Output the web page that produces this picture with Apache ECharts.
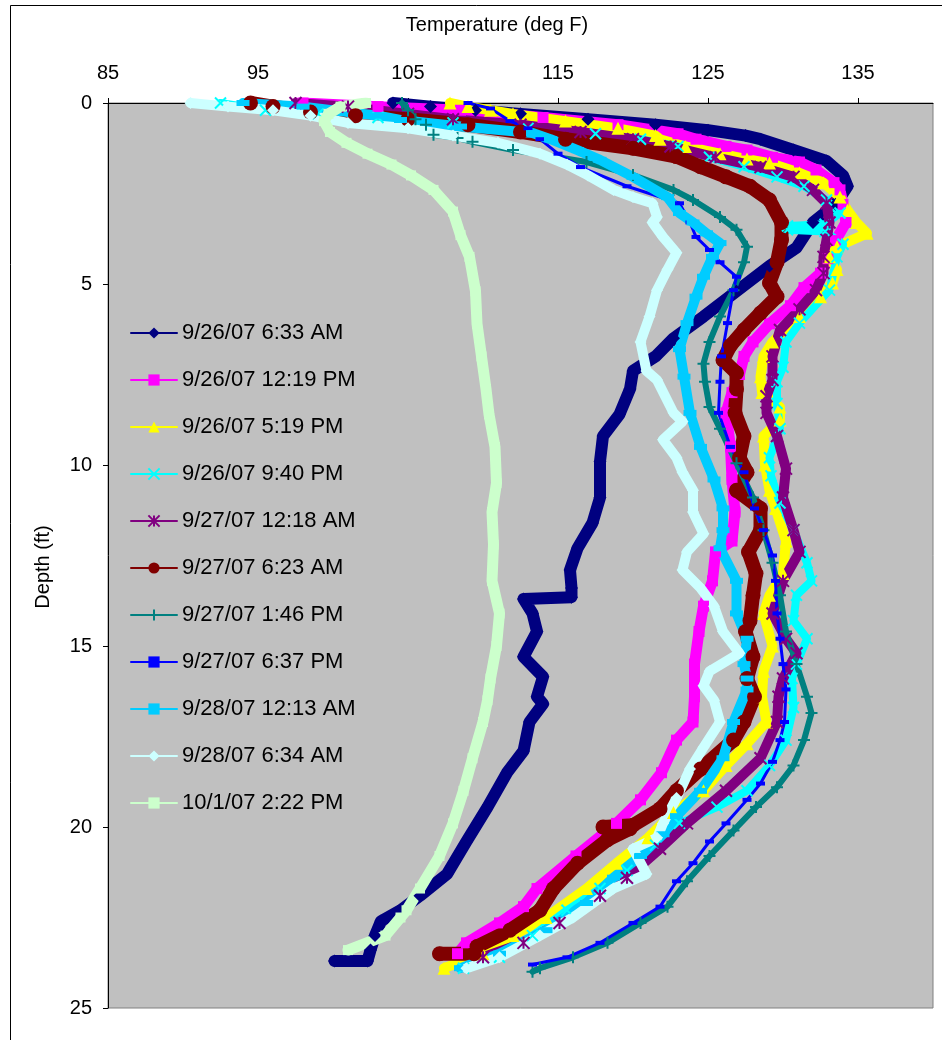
<!DOCTYPE html>
<html>
<head>
<meta charset="utf-8">
<script src="https://cdn.jsdelivr.net/npm/echarts@6/dist/echarts.min.js"></script>
<style>
  html, body { margin: 0; padding: 0; background: #fff; }
  #chart { width: 942px; height: 1040px; }
</style>
</head>
<body>
<div id="chart"></div>
<script>
// temperature profiles, depth (ft) vs temperature (deg F)
const xTicks = [85, 95, 105, 115, 125, 135];

const names = [
  '9/26/07 6:33 AM', '9/26/07 12:19 PM', '9/26/07 5:19 PM', '9/26/07 9:40 PM',
  '9/27/07 12:18 AM', '9/27/07 6:23 AM', '9/27/07 1:46 PM', '9/27/07 6:37 PM',
  '9/28/07 12:13 AM', '9/28/07 6:34 AM', '10/1/07 2:22 PM'
];

const depth0633 = [0, 0.1, 0.2, 0.3, 0.45, 0.6, 0.75, 0.9, 1.0, 1.3, 1.6, 2.0, 2.3, 2.8, 3.3, 4.0, 4.5, 5.2, 5.9, 6.5, 7.0, 7.4, 7.9, 8.6, 9.2, 9.9, 10.9, 11.6, 12.3, 12.9, 13.4, 13.65, 13.7, 14.1, 14.6, 15.3, 15.85, 16.4, 16.6, 17.1, 17.9, 18.5, 19.45, 20.4, 21.3, 21.9, 22.3, 22.6, 23.0, 23.4, 23.7, 23.7];
const temp0633 = [104, 106.5, 109.5, 112.5, 117, 121.5, 125, 127.5, 128.5, 130.7, 132.9, 134, 134.3, 133.5, 132, 130.9, 129.1, 126.9, 124.7, 122.7, 121.5, 120, 119.8, 119.1, 118, 117.8, 117.8, 117.3, 116.3, 115.8, 115.9, 115.9, 112.7, 113.3, 113.6, 112.7, 114, 113.6, 114, 113.1, 112.7, 111.6, 110.3, 108.9, 107.6, 105.8, 104.5, 103.2, 102.8, 102.5, 102.3, 100.1];

const depth1219 = [0, 0.1, 0.2, 0.4, 0.6, 0.85, 1.0, 1.2, 1.3, 1.5, 1.63, 1.85, 2.2, 2.4, 2.8, 3.3, 3.8, 4.3, 4.7, 5.1, 5.6, 6.1, 6.6, 7.0, 7.5, 8.0, 8.56, 9.5, 10.4, 11.3, 12.1, 12.4, 13.2, 13.9, 14.6, 15.5, 16.4, 17.1, 17.6, 18.5, 19.25, 19.9, 20.8, 21.7, 22.2, 22.65, 23.2, 23.5];
const temp1219 = [98, 103, 108.5, 114, 119, 123, 124.2, 126.2, 127.6, 129.3, 131.1, 132.2, 133.4, 133.8, 134, 134.2, 133.5, 133, 132.5, 131.4, 130.5, 129.1, 128, 127.4, 127.1, 126.6, 126.2, 126.5, 126.6, 126.8, 126.6, 125.5, 125.3, 124.7, 124.4, 124.1, 124.1, 124, 122.9, 121.9, 120.5, 118.9, 116.2, 113.6, 112.7, 111.1, 108.9, 108.3];

const depth0519 = [0, 0.1, 0.2, 0.3, 0.5, 0.7, 0.9, 1.0, 1.2, 1.4, 1.55, 1.66, 1.93, 2.2, 2.6, 2.96, 3.3, 3.6, 3.97, 4.25, 4.6, 4.97, 5.35, 5.9, 6.6, 7.0, 7.56, 8.0, 8.4, 8.76, 9.2, 10.0, 10.7, 11.2, 12.1, 13.0, 13.6, 14.1, 15.0, 15.7, 16.4, 17.1, 17.7, 18.3, 19.0, 19.6, 20.3, 21.0, 21.7, 22.5, 23.0, 23.5, 23.9];
const temp0519 = [107.8, 109, 110.5, 112, 115.5, 119, 121.5, 121.8, 123.5, 125.8, 127.6, 129.1, 131.1, 132.7, 133.8, 134.3, 134.9, 135.6, 133.6, 133.1, 133.6, 133.3, 132.5, 131.1, 129.3, 128.7, 128.5, 128.6, 129.8, 129.8, 128.7, 128.8, 129.1, 129.5, 130.2, 130, 129.1, 128.7, 129.3, 128.7, 128.6, 128.9, 127.6, 126.2, 124.7, 122.7, 121, 118.9, 116.9, 114.2, 112, 110, 107.4];

const depth0940 = [0, 0.2, 0.3, 0.4, 0.55, 0.7, 0.85, 1.0, 1.2, 1.5, 1.76, 2.04, 2.3, 2.68, 3.04, 3.35, 3.4, 3.5, 3.55, 3.9, 4.25, 5.17, 6.08, 6.6, 7.3, 7.7, 8.3, 9.0, 9.8, 10.3, 11.05, 11.8, 12.7, 13.2, 13.6, 14.3, 14.8, 15.5, 15.9, 16.7, 17.6, 18.3, 19.0, 19.45, 19.9, 20.5, 21.2, 21.7, 22.3, 23.0, 23.6, 23.9];
const temp0940 = [92.5, 95.5, 99, 103, 108, 113, 117.5, 120.5, 123, 125.1, 127.4, 129.6, 131.4, 132.9, 133.8, 132.8, 130.3, 130.3, 132.8, 134, 133.6, 133.1, 131.1, 130.2, 130, 129.6, 129.6, 129.8, 129.1, 129.2, 129.8, 130.7, 131.6, 131.9, 130.9, 130.7, 131.6, 130.9, 130.6, 130.7, 130.2, 129.1, 127.6, 125.6, 123.1, 121.5, 119.6, 117.8, 115.6, 113.3, 111.1, 108.7];

const depth1218 = [0, 0.1, 0.3, 0.45, 0.6, 0.8, 1.0, 1.2, 1.5, 1.77, 2.04, 2.4, 2.77, 3.3, 3.78, 4.25, 4.7, 5.17, 5.7, 6.27, 7.0, 7.65, 8.1, 8.56, 9.2, 10.1, 10.9, 11.8, 12.4, 13.2, 14.1, 14.8, 15.2, 15.9, 16.4, 17.1, 18.1, 19.0, 19.9, 20.6, 21.4, 21.9, 22.65, 23.2, 23.6];
const temp1218 = [97.5, 101, 105, 108, 112.5, 116.5, 120, 122.5, 125.5, 128.5, 130.7, 132, 132.9, 133.1, 132.9, 132.7, 132.7, 132.2, 131.1, 129.8, 129.3, 129.3, 128.9, 128.9, 129.6, 130.2, 130, 130.7, 131.1, 130, 129.3, 130.2, 130.9, 130, 129.7, 129.6, 128.5, 126.2, 123.6, 121.8, 119.6, 117.8, 115.1, 112.7, 110];

const depth0623 = [0, 0.1, 0.25, 0.35, 0.45, 0.6, 0.8, 1.0, 1.25, 1.48, 1.76, 2.04, 2.3, 2.68, 3.3, 3.78, 4.4, 4.97, 5.35, 5.8, 6.27, 6.7, 7.1, 7.46, 7.9, 8.56, 9.2, 9.8, 10.2, 10.7, 11.2, 11.8, 12.4, 13.0, 13.6, 14.3, 14.6, 15.3, 15.9, 16.4, 17.1, 17.6, 18.4, 19.0, 19.5, 19.95, 20.0, 20.05, 20.35, 21.0, 21.7, 22.3, 22.85, 23.3, 23.5, 23.5];
const temp0623 = [94.5, 96, 98.5, 101.5, 105, 109, 112.5, 115.5, 120, 122.9, 124.5, 126.2, 127.8, 129.1, 129.9, 129.9, 129.6, 129.1, 129.6, 128.5, 127.4, 126.5, 126, 126.9, 126.9, 126.8, 127.4, 127.1, 127.6, 126.9, 128.5, 128.5, 127.7, 128.2, 128, 127.8, 127.5, 128, 127.6, 128.1, 127.4, 126.7, 124.5, 122.9, 121.8, 120, 118, 119.8, 118.3, 116.3, 114.7, 113.8, 111.8, 109.6, 109.4, 107.1];

const depth0146 = [0, 0.2, 0.45, 0.6, 0.88, 0.97, 1.07, 1.3, 1.63, 1.99, 2.4, 2.68, 3.15, 3.5, 3.97, 4.4, 5.17, 5.9, 6.6, 7.2, 7.7, 8.4, 9.0, 9.95, 10.9, 11.8, 12.7, 13.6, 14.6, 15.5, 16.4, 16.85, 17.6, 18.3, 18.9, 19.45, 20.1, 20.8, 21.5, 22.2, 22.65, 23.2, 23.6, 23.9, 24.0];
const temp0146 = [104.6, 105, 105.5, 106.2, 106.7, 108.3, 109.3, 112, 116.9, 120, 122.7, 124, 125.8, 126.9, 127.6, 127.4, 126.7, 125.8, 125.1, 124.7, 124.8, 125.1, 125.8, 126.9, 128, 128.7, 129.3, 129.8, 130.2, 130.9, 131.6, 131.9, 131.4, 130.7, 129.6, 128.2, 126.7, 125.1, 123.6, 122.3, 120.5, 118.3, 116, 113.8, 113.3];

const depth0637 = [0, 0.15, 0.5, 0.7, 1.0, 1.4, 1.77, 2.3, 2.77, 3.3, 3.7, 4.06, 4.4, 4.8, 5.17, 6.08, 7.0, 7.7, 8.56, 9.5, 10.2, 11.2, 11.8, 12.5, 13.2, 14.1, 14.8, 15.5, 16.2, 17.1, 17.6, 18.2, 18.8, 19.25, 19.9, 20.4, 21.0, 21.5, 22.2, 22.65, 23.2, 23.6, 23.8];
const temp0637 = [109, 110.5, 111.8, 113, 113.8, 115, 116.5, 119.6, 123.1, 123.8, 124.2, 125.1, 125.8, 126.9, 126.7, 126.3, 125.9, 125.8, 125.7, 126.5, 127.4, 128.1, 128.7, 129.3, 129.5, 129.6, 129.8, 130, 130.2, 130.1, 129.8, 129.3, 128.5, 127.6, 126.2, 125.1, 124, 122.9, 121.8, 120, 117.8, 115.6, 113.3];

const depth1213 = [0, 0.1, 0.35, 0.47, 0.65, 0.83, 1.0, 1.3, 1.57, 2.04, 2.6, 3.04, 3.3, 3.6, 3.87, 4.25, 4.8, 5.35, 6.08, 6.8, 7.56, 8.56, 9.5, 10.4, 11.2, 11.8, 12.3, 13.2, 14.1, 14.8, 15.5, 15.9, 16.2, 17.1, 18.1, 19.0, 19.7, 20.2, 20.8, 21.4, 22.1, 22.85, 23.5, 23.9];
const temp1213 = [94, 98, 103, 104.5, 108.5, 113.3, 114.5, 116.3, 117.8, 120, 122.3, 123.1, 124, 124.9, 125.8, 125.3, 124.7, 124.2, 123.6, 123.1, 123.4, 123.8, 124.5, 125.4, 126, 126, 125.8, 126.9, 126.9, 127.6, 127.4, 127.6, 127.6, 126.7, 126, 124.5, 122.9, 122, 120.5, 118.7, 116.9, 114.2, 111.1, 108.5];

const depth0634 = [0, 0.1, 0.2, 0.35, 0.55, 0.7, 0.9, 1.1, 1.4, 1.7, 2.0, 2.4, 2.6, 2.77, 3.15, 3.3, 3.7, 4.14, 4.6, 5.17, 5.9, 6.6, 7.4, 7.65, 8.56, 8.8, 9.3, 9.8, 10.2, 10.7, 11.3, 11.9, 12.4, 12.9, 13.4, 13.9, 14.6, 15.2, 15.7, 16.1, 16.5, 17.1, 17.8, 18.4, 19.2, 19.9, 20.3, 20.6, 21.3, 21.7, 22.5, 23.0, 23.6, 23.9];
const temp0634 = [90.5, 93, 96, 98.5, 101, 105, 108, 111, 113.8, 115.6, 117, 118.7, 120, 121.3, 121.6, 121.3, 122, 122.9, 122.3, 121.6, 121.1, 120.5, 120.9, 121.6, 122.7, 123.3, 122, 122.9, 123.3, 124, 124, 124.7, 123.6, 123.3, 124.5, 125.4, 126, 127.1, 125.1, 124.7, 125.4, 125.8, 124.7, 123.8, 122.9, 122, 121.6, 120, 120.9, 118.7, 116, 113.8, 111.1, 108.9];

const depth1001 = [0, 0.1, 0.3, 0.5, 0.8, 1.1, 1.4, 1.7, 2.0, 2.4, 3.0, 3.65, 4.25, 5.2, 6.1, 7.0, 7.9, 8.6, 9.5, 10.5, 11.3, 12.2, 13.2, 14.1, 15.0, 15.9, 16.5, 17.1, 18.1, 19.0, 19.9, 20.8, 21.7, 22.3, 22.5, 23.0, 23.4];
const temp1001 = [102.2, 100.5, 99.7, 99.4, 99.8, 100.9, 102.3, 103.9, 105.2, 106.7, 108, 108.5, 109.1, 109.5, 109.6, 109.9, 110.2, 110.4, 110.8, 110.9, 110.6, 110.7, 110.6, 111.1, 110.9, 110.5, 110.3, 110, 109.3, 108.7, 108, 107.1, 105.8, 104.9, 104.5, 103.5, 101];

const depths = [depth0633, depth1219, depth0519, depth0940, depth1218, depth0623, depth0146, depth0637, depth1213, depth0634, depth1001];
const temps = [temp0633, temp1219, temp0519, temp0940, temp1218, temp0623, temp0146, temp0637, temp1213, temp0634, temp1001];

// excel 2003 palette, marker per series
const colors = ['#000080', '#FF00FF', '#FFFF00', '#00FFFF', '#800080', '#800000', '#008080', '#0000FF', '#00CCFF', '#CCFFFF', '#CCFFCC'];
const crossPath = 'path://M0,0L10,10M10,0L0,10';
const starPath = 'path://M0,0L10,10M10,0L0,10M5,0L5,10';
const plusPath = 'path://M5,0L5,10M0,5L10,5';
const looks = [
  { symbol: 'diamond', size: 13, width: 12 },
  { symbol: 'rect', size: 11, width: 11 },
  { symbol: 'triangle', size: 13, width: 10 },
  { symbol: crossPath, size: 11, width: 8, stroke: true },
  { symbol: starPath, size: 12, width: 10, stroke: true },
  { symbol: 'circle', size: 15, width: 14 },
  { symbol: plusPath, size: 12, width: 6, stroke: true },
  { symbol: 'rect', size: [9, 4], width: 3 },
  { symbol: 'rect', size: [13, 6], width: 10 },
  { symbol: 'diamond', size: 12, width: 10 },
  { symbol: 'rect', size: 10, width: 11 }
];

const FONT = 'Liberation Sans, Arial, sans-serif';

const chart = echarts.init(document.getElementById('chart'), null, { renderer: 'canvas' });

const series = names.map((name, i) => {
  const look = looks[i];
  return {
    name,
    type: 'line',
    data: depths[i].map((d, k) => [temps[i][k], d]),
    symbol: look.symbol,
    symbolSize: look.size,
    showSymbol: true,
    showAllSymbol: true,
    lineStyle: { color: colors[i], width: look.width, join: 'round', cap: 'round' },
    itemStyle: look.stroke
      ? { color: colors[i], borderColor: colors[i], borderWidth: 2 }
      : { color: colors[i], borderColor: colors[i], borderWidth: 0 },
    emphasis: { disabled: true },
    animation: false
  };
});

chart.setOption({
  backgroundColor: '#ffffff',
  animation: false,
  textStyle: { fontFamily: FONT },
  grid: {
    left: 108, top: 103, right: 9, bottom: 32,
    show: true, backgroundColor: '#C0C0C0', borderColor: '#808080', borderWidth: 1
  },
  xAxis: {
    type: 'value', position: 'top', min: 85, max: 140, interval: 10,
    axisLine: { lineStyle: { color: '#000', width: 1 } },
    axisTick: { show: true, length: 5, lineStyle: { color: '#000' }, customValues: xTicks },
    axisLabel: { color: '#000', fontSize: 20, fontFamily: FONT, margin: 20, customValues: xTicks },
    splitLine: { show: false }
  },
  yAxis: {
    type: 'value', inverse: true, min: 0, max: 25, interval: 5,
    axisLine: { lineStyle: { color: '#000', width: 1 } },
    axisTick: { show: true, length: 5, lineStyle: { color: '#000' } },
    axisLabel: { color: '#000', fontSize: 20, fontFamily: FONT, margin: 16 },
    splitLine: { show: false }
  },
  legend: {
    orient: 'vertical', left: 130, top: 321, padding: 0,
    itemWidth: 46, itemHeight: 14, itemGap: 23,
    lineStyle: { width: 2 },
    textStyle: { color: '#000', fontSize: 22, fontFamily: FONT, lineHeight: 24 },
    data: names
  },
  graphic: [
    { type: 'rect', silent: true, z: -1, shape: { x: 10.5, y: 5.5, width: 1000, height: 1100 },
      style: { fill: null, stroke: '#000', lineWidth: 1 } },
    { type: 'text', x: 497, y: 25, silent: true,
      style: { text: 'Temperature (deg F)', fill: '#000', font: '20px ' + FONT, align: 'center', verticalAlign: 'middle' } },
    { type: 'text', x: 43, y: 567, rotation: Math.PI / 2, silent: true,
      style: { text: 'Depth (ft)', fill: '#000', font: '20px ' + FONT, align: 'center', verticalAlign: 'middle' } }
  ],
  series
});
</script>
</body>
</html>
